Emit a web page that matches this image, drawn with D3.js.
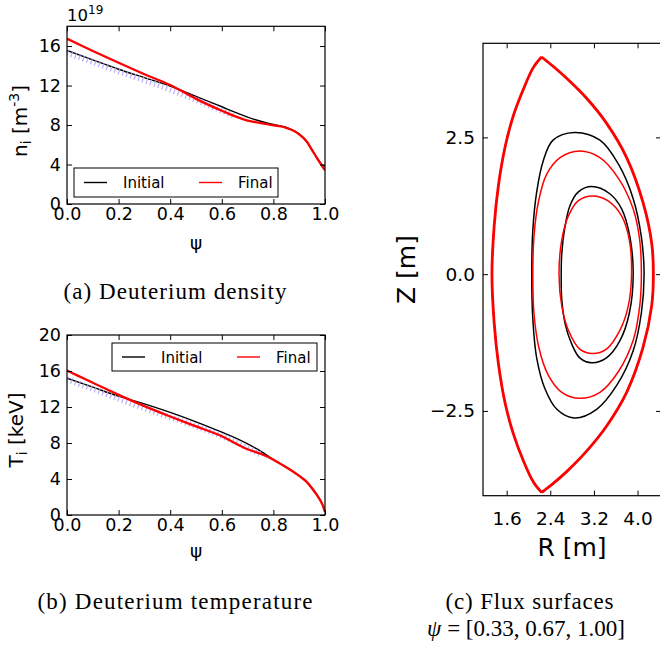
<!DOCTYPE html>
<html><head><meta charset="utf-8">
<script src="https://cdn.jsdelivr.net/npm/d3@7/dist/d3.min.js"></script>
<style>body{margin:0;background:#fff}</style>
</head><body>
<svg id="fig" width="660" height="645" xmlns="http://www.w3.org/2000/svg"></svg>
<script>
// ---------------- data ----------------
const psi = [0, 0.1, 0.2, 0.3, 0.4, 0.5, 0.6, 0.65, 0.7, 0.75, 0.8, 0.85, 0.88, 0.9, 0.93, 0.95, 0.97, 0.99, 1.0];
const nInitial = [15.56, 14.6, 13.65, 12.8, 11.95, 10.9, 9.85, 9.3, 8.8, 8.38, 8.05, 7.75, 7.42, 7.1, 6.3, 5.5, 4.65, 3.95, 3.85];
const nFinal   = [16.74, 15.5, 14.3, 13.15, 12.05, 10.65, 9.45, 8.9, 8.45, 8.2, 7.97, 7.72, 7.4, 7.05, 6.3, 5.45, 4.6, 3.8, 3.42];
const nIntermediate = [15.6, 14.7, 13.75, 12.85, 11.9, 10.85, 9.75, 9.2];
const TInitial = [15.2, 14.2, 13.2, 12.35, 11.4, 10.35, 9.2, 8.6, 7.9, 7.1, 6.15, 5.3, 4.75, 4.35, 3.65, 3.0, 2.2, 1.2, 0.4];
const TFinal   = [16.05, 14.7, 13.35, 12.1, 10.95, 9.85, 8.75, 8.0, 7.3, 6.8, 6.15, 5.3, 4.75, 4.35, 3.65, 2.95, 2.15, 1.15, 0.35];
const TIntermediate = [15.4, 14.35, 13.25, 12.2, 11.2, 10.2, 9.1, 8.5, 7.8, 7.05];

const psiTicks = [0, 0.2, 0.4, 0.6, 0.8, 1.0];
const nTicks = [0, 4, 8, 12, 16];
const TTicks = [0, 4, 8, 12, 16, 20];
const RTicks = [1.6, 2.4, 3.2, 4.0];
const ZTicks = [-2.5, 0, 2.5];
const legendLabels = ["Initial", "Final"];
const seriesColors = ["#000000", "#ff0000"];

// flux surfaces (R, Z in m)
// boundary psi = 1.00 (initial and final coincide): right and left halves between the X-point tips
const boundaryRightR = [2.24, 2.45, 2.70, 3.07, 3.43, 3.80, 4.10, 4.26, 4.29, 4.26, 4.10, 3.80, 3.43, 3.07, 2.70, 2.45, 2.24];
const boundaryRightZ = [3.97, 3.80, 3.58, 3.21, 2.76, 2.13, 1.31, 0.56, 0.0, -0.57, -1.34, -2.16, -2.78, -3.23, -3.61, -3.83, -3.99];
const boundaryLeftR  = [2.24, 2.09, 1.91, 1.72, 1.57, 1.45, 1.37, 1.33, 1.37, 1.45, 1.57, 1.72, 1.91, 2.09, 2.24];
const boundaryLeftZ  = [-3.99, -3.80, -3.42, -2.91, -2.35, -1.65, -0.88, 0.0, 0.87, 1.63, 2.32, 2.89, 3.39, 3.78, 3.97];
// psi = 0.67
const midInitialR = [2.84, 2.45, 2.27, 2.15, 2.08, 2.06, 2.08, 2.15, 2.30, 2.52, 2.84, 3.25, 3.62, 3.92, 4.07, 4.12, 4.07, 3.92, 3.65, 3.31];
const midInitialZ = [2.59, 2.45, 2.07, 1.50, 0.81, 0.0, -0.83, -1.53, -2.09, -2.47, -2.63, -2.47, -2.03, -1.40, -0.71, 0.0, 0.68, 1.38, 2.01, 2.45];
const midFinalR = [2.94, 2.58, 2.33, 2.18, 2.10, 2.08, 2.10, 2.19, 2.36, 2.61, 2.94, 3.31, 3.65, 3.92, 4.04, 4.07, 4.04, 3.92, 3.65, 3.31];
const midFinalZ = [2.25, 2.13, 1.82, 1.31, 0.68, 0.0, -0.71, -1.34, -1.84, -2.16, -2.27, -2.16, -1.78, -1.21, -0.58, 0.0, 0.62, 1.19, 1.75, 2.13];
// psi = 0.33
const innerInitialR = [3.16, 2.91, 2.76, 2.66, 2.61, 2.60, 2.61, 2.67, 2.79, 2.94, 3.16, 3.43, 3.68, 3.85, 3.92, 3.86, 3.71, 3.49];
const innerInitialZ = [1.60, 1.50, 1.25, 0.81, 0.37, 0.0, -0.45, -0.90, -1.27, -1.53, -1.62, -1.53, -1.21, -0.71, 0.0, 0.68, 1.19, 1.47];
const innerFinalR = [3.17, 2.91, 2.73, 2.61, 2.56, 2.61, 2.73, 2.94, 3.17, 3.43, 3.68, 3.83, 3.89, 3.85, 3.71, 3.46];
const innerFinalZ = [1.43, 1.34, 1.06, 0.62, 0.0, -0.58, -1.02, -1.37, -1.45, -1.37, -1.02, -0.58, 0.0, 0.62, 1.06, 1.34];

// ---------------- drawing ----------------
const svg = d3.select("#fig");
svg.append("rect").attr("width", 660).attr("height", 645).attr("fill", "#fff");
const SANS = "DejaVu Sans, sans-serif";
const SERIF = "Liberation Serif, serif";
const TICK = 5;

function frameAxes(g, x, y, box, opt) {
  const fs = opt.fontSize;
  const bx = g.append("g").attr("transform", `translate(0,${box.bottom})`)
    .call(d3.axisBottom(x).tickValues(opt.xTicks).tickFormat(opt.xFormat)
      .tickSizeInner(-TICK).tickSizeOuter(0).tickPadding(opt.xPad));
  const tx = g.append("g").attr("transform", `translate(0,${box.top})`)
    .call(d3.axisTop(x).tickValues(opt.xTicks).tickFormat("").tickSizeInner(-TICK).tickSizeOuter(0));
  const ly = g.append("g").attr("transform", `translate(${box.left},0)`)
    .call(d3.axisLeft(y).tickValues(opt.yTicks).tickFormat(opt.yFormat)
      .tickSizeInner(-TICK).tickSizeOuter(0).tickPadding(opt.yPad));
  const ry = g.append("g").attr("transform", `translate(${box.right},0)`)
    .call(d3.axisRight(y).tickValues(opt.yTicks).tickFormat("").tickSizeInner(-TICK).tickSizeOuter(0));
  [bx, tx, ly, ry].forEach(a => {
    a.select(".domain").remove();
    a.attr("font-size", fs).attr("font-family", SANS);
    a.selectAll("line").attr("stroke", "#000").attr("stroke-width", 1);
  });
  g.append("rect").attr("x", box.left).attr("y", box.top)
    .attr("width", box.right - box.left).attr("height", box.bottom - box.top)
    .attr("fill", "none").attr("stroke", "#000").attr("stroke-width", 1.2);
}

function profilePanel(o) {
  const box = o.box;
  const x = d3.scaleLinear().domain([0, 1]).range([box.left, box.right]);
  const y = d3.scaleLinear().domain([0, o.yMax]).range([box.bottom, box.top]);
  const g = svg.append("g");
  g.append("clipPath").attr("id", "clip" + o.id).append("rect")
    .attr("x", box.left).attr("y", box.top).attr("width", box.right - box.left).attr("height", box.bottom - box.top);
  const line = d3.line().x(d => x(d[0])).y(d => y(d[1])).curve(d3.curveMonotoneX);
  const lg = g.append("g").attr("clip-path", `url(#clip${o.id})`);
  lg.append("path").datum(d3.zip(psi, o.initial)).attr("d", line)
    .attr("fill", "none").attr("stroke", seriesColors[0]).attr("stroke-width", 1.4);
  // intermediate iterations: faint lavender hatching (drawn over the initial curve, under the final one)
  lg.append("path").datum(d3.zip(psi.slice(0, o.inter.length), o.inter)).attr("d", line)
    .attr("fill", "none").attr("stroke", "#b3a4fb").attr("stroke-width", 6)
    .attr("stroke-dasharray", "1.2,3").attr("opacity", 0.9)
    .attr("transform", "translate(0,3)");
  lg.append("path").datum(d3.zip(psi, o.final)).attr("d", line)
    .attr("fill", "none").attr("stroke", seriesColors[1]).attr("stroke-width", 2.3);

  frameAxes(g, x, y, box, {
    fontSize: 17.5, xTicks: psiTicks, xFormat: d3.format(".1f"), xPad: 4,
    yTicks: o.yTicks, yFormat: d3.format("d"), yPad: 6
  });

  // axis labels
  g.append("text").attr("x", (box.left + box.right) / 2).attr("y", o.xLabelY)
    .attr("text-anchor", "middle").attr("font-family", SANS).attr("font-size", 18.5).text("ψ");
  const yl = g.append("text").attr("transform", `translate(${o.yLabelX},${o.yLabelY}) rotate(-90)`)
    .attr("text-anchor", "middle").attr("font-family", SANS).attr("font-size", 20);
  o.yLabel(yl);

  // legend
  const L = o.legend;
  const lgd = g.append("g");
  lgd.append("rect").attr("x", L.x).attr("y", L.y).attr("width", L.w).attr("height", L.h)
    .attr("fill", "#fff").attr("stroke", "#000").attr("stroke-width", 1);
  const cy = L.y + L.h / 2;
  const sampleX = [10, 125], textX = [49, 164];
  legendLabels.forEach((lab, i) => {
    lgd.append("line").attr("x1", L.x + sampleX[i]).attr("x2", L.x + sampleX[i] + 23)
      .attr("y1", cy).attr("y2", cy).attr("stroke", seriesColors[i]).attr("stroke-width", 1.4);
    lgd.append("text").attr("x", L.x + textX[i]).attr("y", cy + 5.5)
      .attr("font-family", SANS).attr("font-size", 15).text(lab);
  });
  return g;
}

// (a) density
const gA = profilePanel({
  id: "a", box: {left: 67, right: 325, top: 26.3, bottom: 204}, yMax: 18, yTicks: nTicks,
  initial: nInitial, final: nFinal, inter: nIntermediate,
  xLabelY: 249, yLabelX: 27, yLabelY: 121,
  yLabel: t => {
    t.append("tspan").text("n");
    t.append("tspan").attr("font-size", 14).attr("dy", 4).text("i");
    t.append("tspan").attr("dy", -4).text(" [m");
    t.append("tspan").attr("font-size", 14).attr("dy", -8).text("-3");
    t.append("tspan").attr("dy", 8).text("]");
  },
  legend: {x: 74, y: 168, w: 204, h: 29}
});
const off = gA.append("text").attr("x", 67).attr("y", 21).attr("font-family", SANS).attr("font-size", 16.5);
off.append("tspan").text("10");
off.append("tspan").attr("font-size", 12).attr("dy", -7).text("19");

// (b) temperature
profilePanel({
  id: "b", box: {left: 67, right: 325, top: 335, bottom: 515}, yMax: 20, yTicks: TTicks,
  initial: TInitial, final: TFinal, inter: TIntermediate,
  xLabelY: 557, yLabelX: 23, yLabelY: 430,
  yLabel: t => {
    t.append("tspan").text("T");
    t.append("tspan").attr("font-size", 14).attr("dy", 4).text("i");
    t.append("tspan").attr("dy", -4).text(" [keV]");
  },
  legend: {x: 112, y: 343, w: 205, h: 28}
});

// (c) flux surfaces
(function () {
  const box = {left: 483, right: 661, top: 43.3, bottom: 495.7};
  const R = d3.scaleLinear().domain([1.166, 4.43]).range([box.left, box.right]);
  const Z = d3.scaleLinear().domain([-4.05, 4.22]).range([box.bottom, box.top]);
  const g = svg.append("g");
  const closed = d3.line().x(d => R(d[0])).y(d => Z(d[1])).curve(d3.curveCatmullRomClosed.alpha(0.5));
  const open = d3.line().x(d => R(d[0])).y(d => Z(d[1])).curve(d3.curveCatmullRom.alpha(0.5));
  const draw = (gen, rs, zs, col, w) => g.append("path").datum(d3.zip(rs, zs)).attr("d", gen)
    .attr("fill", "none").attr("stroke", col).attr("stroke-width", w).attr("stroke-linejoin", "round");
  // boundary: initial (black) underneath final (red)
  draw(open, boundaryRightR, boundaryRightZ, seriesColors[0], 1.5);
  draw(open, boundaryLeftR, boundaryLeftZ, seriesColors[0], 1.5);
  draw(open, boundaryRightR, boundaryRightZ, seriesColors[1], 2.8);
  draw(open, boundaryLeftR, boundaryLeftZ, seriesColors[1], 2.8);
  draw(closed, midInitialR, midInitialZ, seriesColors[0], 1.5);
  draw(closed, midFinalR, midFinalZ, seriesColors[1], 1.5);
  draw(closed, innerInitialR, innerInitialZ, seriesColors[0], 1.5);
  draw(closed, innerFinalR, innerFinalZ, seriesColors[1], 1.5);

  frameAxes(g, R, Z, box, {
    fontSize: 18.5, xTicks: RTicks, xFormat: d3.format(".1f"), xPad: 16,
    yTicks: ZTicks, yFormat: d3.format(".1f"), yPad: 8
  });
  g.append("text").attr("x", (box.left + box.right) / 2).attr("y", 556)
    .attr("text-anchor", "middle").attr("font-family", SANS).attr("font-size", 25).text("R [m]");
  g.append("text").attr("transform", `translate(415,${(box.top + box.bottom) / 2}) rotate(-90)`)
    .attr("text-anchor", "middle").attr("font-family", SANS).attr("font-size", 25).text("Z [m]");
})();

// captions
const captions = [
  {x: 175, y: 299, w: 223, t: "(a) Deuterium density"},
  {x: 175, y: 609, w: 275, t: "(b) Deuterium temperature"},
  {x: 529.5, y: 609, w: 168, t: "(c) Flux surfaces"}
];
captions.forEach(c => svg.append("text").attr("x", c.x).attr("y", c.y).attr("text-anchor", "middle")
  .attr("font-family", SERIF).attr("font-size", 23).attr("textLength", c.w).attr("lengthAdjust", "spacing").text(c.t));
const psiCap = svg.append("text").attr("x", 526).attr("y", 636).attr("text-anchor", "middle")
  .attr("font-family", SERIF).attr("font-size", 23);
psiCap.append("tspan").attr("font-style", "italic").text("ψ");
psiCap.append("tspan").text(" = [0.33, 0.67, 1.00]");
</script>
</body></html>
